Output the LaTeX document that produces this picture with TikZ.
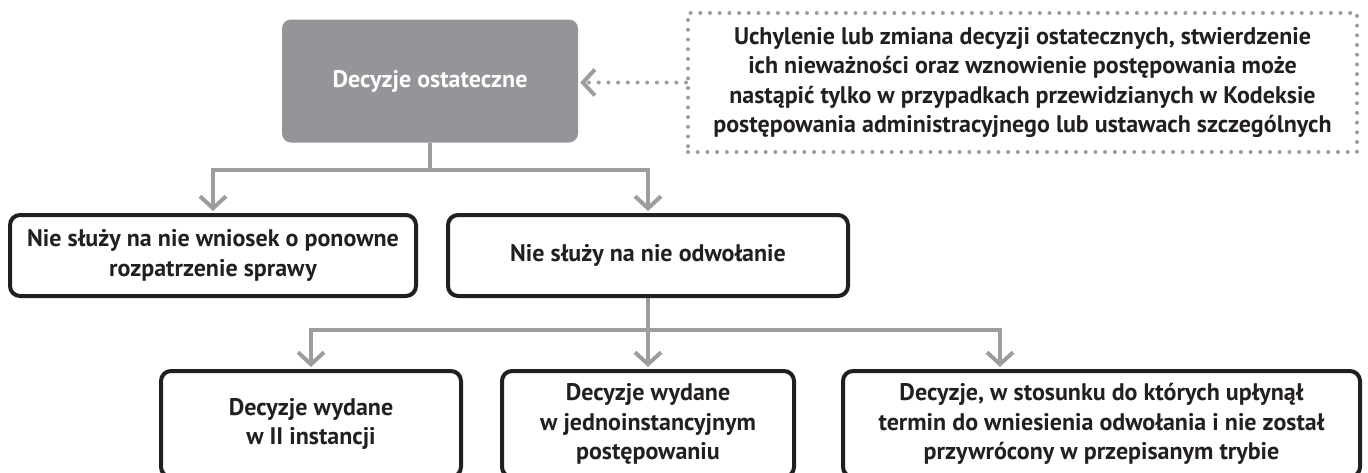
\documentclass[tikz,border=0pt]{standalone}
\usepackage{fontspec}
\setmainfont{PT Sans}
\usetikzlibrary{arrows.meta}
\definecolor{boxgray}{HTML}{939598}
\definecolor{linegray}{HTML}{9D9D9F}
\definecolor{ink}{HTML}{231F20}
\begin{document}
\begin{tikzpicture}[x=1pt,y=-1pt,
  font=\fontsize{24}{29.5}\selectfont\bfseries,
  box/.style={draw=ink, line width=4pt, rounded corners=10pt, align=center,
    inner sep=0pt, text=ink},
  headbox/.style={fill=boxgray, rounded corners=9pt, align=center, text=white},
  notebox/.style={draw=linegray, line width=4pt, dash pattern=on 0pt off 9.7pt,
    line cap=round, align=center, text=ink},
  conn/.style={draw=linegray, line width=4pt},
  dotconn/.style={draw=linegray, line width=4pt, dash pattern=on 0pt off 9.7pt,
    line cap=round},
  arr/.style={-{Straight Barb[length=12pt,width=26pt]}, shorten >=2pt},
  ]
\clip (0,0) rectangle (1368,472);
\useasboundingbox (0,0) rectangle (1368,472);

% top level
\node[headbox, minimum width=296pt, minimum height=123pt] (top) at (430,81)
  {Decyzje ostateczne};
\node[notebox, minimum width=669pt, minimum height=139pt] (note) at (1022.5,82.5)
  {Uchylenie lub zmiana decyzji ostatecznych, stwierdzenie\\
   ich nieważności oraz wznowienie postępowania może\\
   nastąpić tylko w przypadkach przewidzianych w Kodeksie\\
   postępowania administracyjnego lub ustawach szczególnych};

% second level
\node[box, minimum width=406pt, minimum height=81pt] (nl) at (213,255.5)
  {Nie służy na nie wniosek o ponowne\\rozpatrzenie sprawy};
\node[box, minimum width=400pt, minimum height=81pt] (nr) at (648,255.5)
  {Nie służy na nie odwołanie};

% third level
\node[box, minimum width=300pt, minimum height=106pt] (b1) at (311,424)
  {Decyzje wydane\\w II instancji};
\node[box, minimum width=292pt, minimum height=106pt] (b2) at (648,424)
  {Decyzje wydane\\w jednoinstancyjnym\\postępowaniu};
\node[box, minimum width=517pt, minimum height=106pt] (b3) at (1101.5,424)
  {Decyzje, w stosunku do których upłynął\\
   termin do wniesienia odwołania i nie został\\
   przywrócony w przepisanym trybie};

% connectors
\path (top.south) ++(0,27) coordinate (j1);
\draw[conn] (top.south) -- (j1);
\draw[conn,arr] (j1) -| (nl.north);
\draw[conn,arr] (j1) -| (nr.north);

\path (nr.south) ++(0,32) coordinate (j2);
\coordinate (b3in) at ([xshift=-101.5pt]b3.north);
\draw[conn,arr] (nr.south) -- (b2.north);
\draw[conn,arr] (j2) -| (b1.north);
\draw[conn,arr] (j2) -| (b3in);

\draw[dotconn,arr] (note.west) -- (note.west -| top.east);
\end{tikzpicture}
\end{document}
